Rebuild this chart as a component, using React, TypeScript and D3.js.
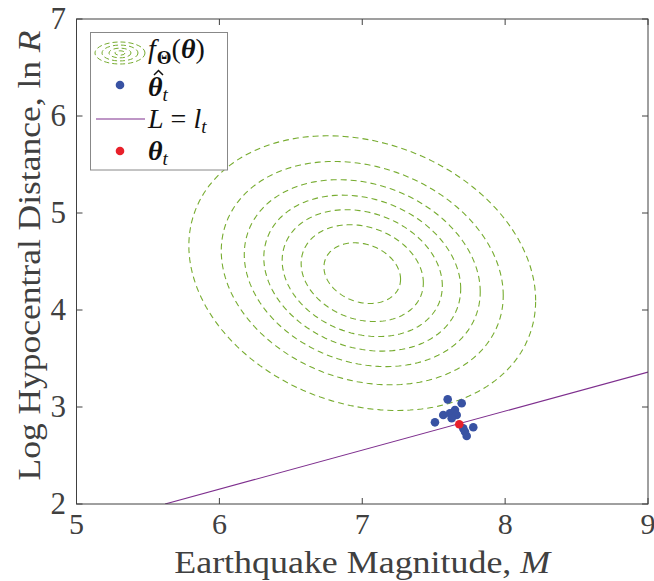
import React from "react";
import * as d3 from "d3";

const xTicks = [5, 6, 7, 8, 9];
const yTicks = [2, 3, 4, 5, 6, 7];

// bivariate normal f_Theta(theta)
const gaussMean = [7.0, 4.38];
const gaussSd = [0.6, 0.7];
const gaussRho = [-0.2];
const contourLevels = [0.05, 0.1, 0.15, 0.2, 0.25, 0.3, 0.35];

// estimated points theta-hat_t
const estM = [7.598, 7.696, 7.567, 7.509, 7.614, 7.649, 7.661, 7.626, 7.707, 7.777, 7.719, 7.731];
const estLnR = [3.079, 3.038, 2.918, 2.842, 2.935, 2.969, 2.918, 2.884, 2.78, 2.791, 2.745, 2.701];

// true point theta_t
const trueM = [7.679];
const trueLnR = [2.822];

// line L = l_t
const lineM = [5.62, 9.0];
const lineLnR = [2.0, 3.36];

const W = 654;
const H = 581;
const L0 = 76.5, R0 = 648, T0 = 19, B0 = 504;

const GREEN = "#77ac30";
const BLUE = "#3852a3";
const RED = "#e8202a";
const PURPLE = "#7e2f8e";
const AX = "#404040";
const FONT = "'Liberation Serif', 'Times New Roman', serif";

export default function App() {
  const x = d3.scaleLinear().domain([5, 9]).range([L0, R0]);
  const y = d3.scaleLinear().domain([2, 7]).range([B0, T0]);

  const [mx, my] = gaussMean;
  const [sx, sy] = gaussSd;
  const rho = gaussRho[0];
  const peak = 1 / (2 * Math.PI * sx * sy * Math.sqrt(1 - rho * rho));
  const ts = d3.range(0, 361, 2).map((d) => (d * Math.PI) / 180);
  const lineGen = d3
    .line<[number, number]>()
    .x((d) => x(d[0]))
    .y((d) => y(d[1]))
    .curve(d3.curveLinearClosed);
  const ellipses = contourLevels.map((lv) => {
    const k = Math.sqrt(2 * Math.log(peak / lv));
    const pts: [number, number][] = ts.map((t) => [
      mx + k * sx * Math.cos(t),
      my + k * sy * (rho * Math.cos(t) + Math.sqrt(1 - rho * rho) * Math.sin(t)),
    ]);
    return lineGen(pts) as string;
  });

  const tickLen = 6;

  // legend
  const lgX = 90.5, lgY = 32.5, lgW = 137, lgH = 137.5;
  const rowY = [53, 86, 119, 152];
  const iconX = 120;
  const textX = 148;

  return (
    <svg
      width={W}
      height={H}
      style={{ position: "absolute", left: 0, top: 0, background: "#fff" }}
      fontFamily={FONT}
    >
      <defs>
        <clipPath id="plotclip">
          <rect x={L0} y={T0} width={R0 - L0} height={B0 - T0} />
        </clipPath>
      </defs>
      <rect x={0} y={0} width={W} height={H} fill="#fff" />

      <g clipPath="url(#plotclip)">
        {ellipses.map((d, i) => (
          <path key={i} d={d} fill="none" stroke={GREEN} strokeWidth={1.1} strokeDasharray="6,4" />
        ))}
        <line
          x1={x(lineM[0])}
          y1={y(lineLnR[0])}
          x2={x(lineM[1])}
          y2={y(lineLnR[1])}
          stroke={PURPLE}
          strokeWidth={1.1}
        />
        {estM.map((m, i) => (
          <circle key={i} cx={x(m)} cy={y(estLnR[i])} r={4.3} fill={BLUE} />
        ))}
        {trueM.map((m, i) => (
          <circle key={i} cx={x(m)} cy={y(trueLnR[i])} r={4.3} fill={RED} />
        ))}
      </g>

      {/* axes box */}
      <rect x={L0} y={T0} width={R0 - L0} height={B0 - T0} fill="none" stroke={AX} strokeWidth={1} />
      {xTicks.map((t) => (
        <g key={"xt" + t}>
          <line x1={x(t)} x2={x(t)} y1={B0} y2={B0 - tickLen} stroke={AX} />
          <line x1={x(t)} x2={x(t)} y1={T0} y2={T0 + tickLen} stroke={AX} />
          <text x={x(t)} y={534} textAnchor="middle" fontSize={30} fill={AX}>
            {t}
          </text>
        </g>
      ))}
      {yTicks.map((t) => (
        <g key={"yt" + t}>
          <line x1={L0} x2={L0 + tickLen} y1={y(t)} y2={y(t)} stroke={AX} />
          <line x1={R0} x2={R0 - tickLen} y1={y(t)} y2={y(t)} stroke={AX} />
          <text x={66} y={y(t) + 10} textAnchor="end" fontSize={31} fill={AX}>
            {t}
          </text>
        </g>
      ))}

      {/* axis labels */}
      <text
        x={(L0 + R0) / 2}
        y={573}
        textAnchor="middle"
        fontSize={32}
        fill={AX}
        textLength={376}
        lengthAdjust="spacingAndGlyphs"
      >
        Earthquake Magnitude, <tspan fontStyle="italic">M</tspan>
      </text>
      <text
        transform={`translate(40, ${(T0 + B0) / 2 - 6}) rotate(-90)`}
        textAnchor="middle"
        fontSize={32}
        fill={AX}
        textLength={450}
        lengthAdjust="spacingAndGlyphs"
      >
        Log Hypocentral Distance, ln <tspan fontStyle="italic">R</tspan>
      </text>

      {/* legend */}
      <rect x={lgX} y={lgY} width={lgW} height={lgH} fill="#fff" stroke="#888" strokeWidth={1} />
      {[25, 18, 11, 5].map((r, i) => (
        <ellipse
          key={i}
          cx={iconX}
          cy={rowY[0]}
          rx={r}
          ry={r * 0.44}
          fill="none"
          stroke={GREEN}
          strokeWidth={1}
          strokeDasharray="5,3"
        />
      ))}
      <circle cx={iconX} cy={rowY[1] - 1} r={4.3} fill={BLUE} />
      <line x1={96} x2={145} y1={rowY[2]} y2={rowY[2]} stroke={PURPLE} strokeWidth={1.1} />
      <circle cx={iconX} cy={rowY[3] - 1} r={4.3} fill={RED} />

      <text x={textX} y={rowY[0] + 5} fontSize={28} fill="#111">
        <tspan fontStyle="italic">f</tspan>
        <tspan fontWeight="bold" fontSize={19} dy={6} dx={1}>Θ</tspan>
        <tspan dy={-6}>(</tspan>
        <tspan fontStyle="italic" fontWeight="bold">θ</tspan>
        <tspan>)</tspan>
      </text>
      <path
        d={`M${textX + 6},${rowY[1] - 11} L${textX + 10.5},${rowY[1] - 15.5} L${textX + 15},${rowY[1] - 11}`}
        fill="none"
        stroke="#111"
        strokeWidth={1.5}
      />
      <text x={textX} y={rowY[1] + 10} fontSize={28} fill="#111">
        <tspan fontStyle="italic" fontWeight="bold">θ</tspan>
        <tspan fontStyle="italic" fontSize={19} dy={5}>t</tspan>
      </text>
      <text x={textX} y={rowY[2] + 9} fontSize={28} fill="#111">
        <tspan fontStyle="italic">L</tspan>
        <tspan> = </tspan>
        <tspan fontStyle="italic">l</tspan>
        <tspan fontStyle="italic" fontSize={19} dy={5}>t</tspan>
      </text>
      <text x={textX} y={rowY[3] + 8} fontSize={28} fill="#111">
        <tspan fontStyle="italic" fontWeight="bold">θ</tspan>
        <tspan fontStyle="italic" fontSize={19} dy={5}>t</tspan>
      </text>
    </svg>
  );
}
